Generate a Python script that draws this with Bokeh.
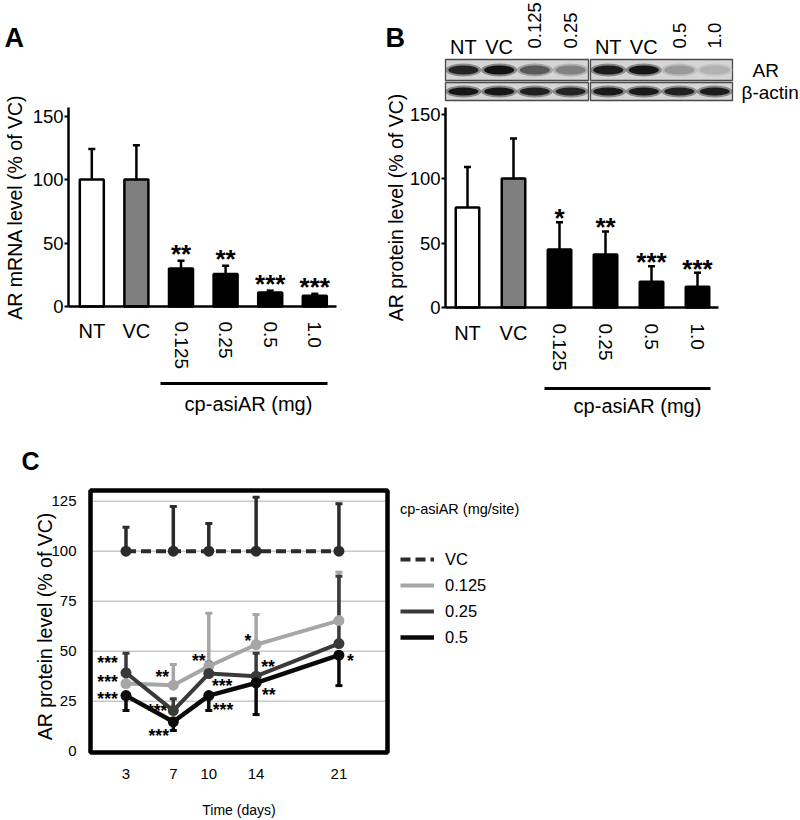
import math
from bokeh.plotting import figure
from bokeh.models import LinearAxis, FixedTicker, Range1d, Legend, LegendItem
from bokeh.layouts import column, row
from bokeh.embed import file_html
from bokeh.resources import INLINE
from bokeh.core.properties import value

# ---------------- data ----------------
groups = ["NT", "VC", "0.125", "0.25", "0.5", "1.0"]
mrna_mean = [100, 100, 30, 25.5, 11, 8.5]
mrna_err = [124, 127, 36, 32, 12.5, 10]
mrna_stars = ["", "", "**", "**", "***", "***"]

protein_mean = [77.5, 100, 45, 41, 20, 16]
protein_err = [109, 131, 66, 59, 32, 27]
protein_stars = ["", "", "*", "**", "***", "***"]

blot_lanes = ["NT", "VC", "0.125", "0.25", "NT", "VC", "0.5", "1.0"]
blot_ar = [0.88, 0.97, 0.62, 0.42, 0.92, 0.95, 0.30, 0.18]
blot_actin = [0.95, 0.95, 0.90, 0.88, 0.93, 0.93, 0.90, 0.92]

days = [3, 7, 10, 14, 21]
c_yticks = [0, 25, 50, 75, 100, 125]
vc_mean = [100, 100, 100, 100, 100]
vc_err = [112, 122.3, 113.8, 127, 123.7]
d0125_mean = [33.8, 33, 42.5, 53.3, 65.3]
d0125_err = [38, 43.3, 69, 68.3, 89.5]
d025_mean = [39.2, 20.3, 38.8, 37.5, 53.8]
d025_err = [49, 26.2, 44.5, 49, 87.5]
d05_mean = [27.8, 14.7, 27.8, 34.2, 48]
d05_err = [20.3, 10.3, 20.3, 18.3, 32.8]

c_star_text = ["***", "***", "***", "**", "***", "***", "**", "***", "***", "*", "**", "**", "*"]
c_star_x = [1.44, 1.44, 1.44, 6.06, 5.63, 5.77, 9.16, 11.13, 11.2, 13.3, 15.0, 15.07, 21.98]
c_star_y = [45.9, 36.7, 28.3, 39, 22, 9.5, 47.3, 34.5, 22.8, 57, 44.2, 30.3, 47]

FONT = "Liberation Sans"
bar_fills = ["white", "#7f7f7f", "black", "black", "black", "black"]


def gray(d):
    v = int(round(214 - d * (214 - 12)))
    return "#%02x%02x%02x" % (v, v, v)


def bar_panel(means, errs, stars, ylabel, letter, g):
    sp, c0, zero, ppu = g["sp"], g["c0"], g["zero"], g["ppu"]
    fx = lambda r: (r - c0) / sp
    fy = lambda r: (zero - r) / ppu
    H = 428
    p = figure(width=g["w"], height=H,
               x_range=Range1d(fx(g["left"]), fx(g["left"] + g["w"])),
               y_range=Range1d(fy(H), fy(0)),
               x_axis_type=None, y_axis_type=None, output_backend="svg",
               toolbar_location=None, min_border=0)
    p.outline_line_color = None
    idx = list(range(len(groups)))
    p.vbar(x=idx, top=means, bottom=0, width=g["barw"] / sp, fill_color=bar_fills,
           line_color="black", line_width=2.5)
    p.segment(x0=idx, y0=means, x1=idx, y1=errs, line_color="black", line_width=2.5)
    p.rect(x=idx, y=errs, width=7, height=2.5, width_units="screen", height_units="screen",
           fill_color="black", line_color=None)
    p.text(x=idx, y=errs, text=stars, text_align="center", text_baseline="alphabetic",
           text_font=value(FONT), text_font_style="bold", text_font_size="26px",
           y_offset=g["star_off"], text_color="black")
    # y axis
    ya = fx(g["yaxis"])
    yax = LinearAxis(fixed_location=ya, bounds=(0, g["ytop"]),
                     ticker=FixedTicker(ticks=[0, 50, 100, 150]), axis_label=ylabel)
    yax.axis_line_width = 2.5
    yax.major_tick_out = 4
    yax.major_tick_in = 0
    yax.major_tick_line_width = 2
    yax.minor_tick_line_color = None
    yax.major_label_text_font = FONT
    yax.major_label_text_font_size = "18.5px"
    yax.major_label_text_color = "black"
    yax.major_label_standoff = 1
    yax.axis_label_text_font = FONT
    yax.axis_label_text_font_size = "19.5px"
    yax.axis_label_text_font_style = "normal"
    yax.axis_label_text_color = "black"
    yax.axis_label_standoff = g["lab_std"]
    p.add_layout(yax, "left")
    # x axis
    overrides = {i: ("" if groups[i] in ("NT", "VC") else groups[i]) for i in idx}
    xax = LinearAxis(fixed_location=0, bounds=(ya, fx(g["xend"])),
                     ticker=FixedTicker(ticks=idx), major_label_overrides=overrides,
                     major_label_orientation="vertical")
    xax.axis_line_width = 2.5
    xax.major_tick_line_color = None
    xax.minor_tick_line_color = None
    xax.major_label_text_font = FONT
    xax.major_label_text_font_size = "19px"
    xax.major_label_text_color = "black"
    xax.major_label_standoff = g["std"]
    p.add_layout(xax, "below")
    hz = [i for i in idx if groups[i] in ("NT", "VC")]
    p.text(x=hz, y=fy(g["lab_top"]), text=[groups[i] for i in hz], text_align="center",
           text_baseline="top", text_font=value(FONT), text_font_size="20px", text_color="black")
    bx0, bx1, by = g["bracket"]
    p.line(x=[fx(bx0), fx(bx1)], y=[fy(by), fy(by)], line_color="black", line_width=3)
    cx, cy = g["caption"]
    p.text(x=[fx(cx)], y=[fy(cy)], text=["cp-asiAR (mg)"], text_align="center",
           text_baseline="middle", text_font=value(FONT), text_font_size="20px", text_color="black")
    lx, ly = g["letter"]
    p.text(x=[fx(lx)], y=[fy(ly)], text=[letter], text_align="left", text_baseline="top",
           text_font=value(FONT), text_font_style="bold", text_font_size="27px", text_color="black")
    return p, fx, fy


gA = dict(w=378, left=0, c0=91.3, sp=44.6, zero=306, ppu=1.27, barw=24,
          yaxis=68, ytop=157, xend=336, std=9, lab_top=319, star_off=-7, lab_std=4,
          bracket=(160, 327, 383), caption=(248, 403), letter=(4, 22))
gB = dict(w=422, left=378, c0=467, sp=46, zero=307, ppu=1.29, barw=23.5,
          yaxis=445, ytop=155, xend=718, std=10, lab_top=321, star_off=-4, lab_std=0,
          bracket=(544, 710, 388), caption=(637, 405), letter=(385, 22))

pA, _, _ = bar_panel(mrna_mean, mrna_err, mrna_stars, "AR mRNA level (% of VC)", "A", gA)
pB, fxB, fyB = bar_panel(protein_mean, protein_err, protein_stars, "AR protein level (% of VC)", "B", gB)

# ---- western blot (panel B) ----
spB = gB["sp"]
ppuB = gB["ppu"]
boxes = [(445, 588), (590, 732)]
rows_px = [(59, 80), (82, 100)]
for (l, r) in boxes:
    for (t, b) in rows_px:
        pB.quad(left=fxB(l), right=fxB(r), top=fyB(t), bottom=fyB(b),
                fill_color="#d5d5d5", line_color="#4a4a4a", line_width=1.3)
lane_x = []
for i in range(len(blot_lanes)):
    l, r = boxes[i // 4]
    lane_x.append(fxB(l + ((i % 4) + 0.5) * (r - l) / 4))
for vals, yc, h in [(blot_ar, 69.5, 9), (blot_actin, 91, 8)]:
    pB.ellipse(x=lane_x, y=fyB(yc), width=36 / spB, height=(h + 4) / ppuB,
               fill_color=[gray(v * 0.75) for v in vals], fill_alpha=0.55, line_color=None)
    pB.ellipse(x=lane_x, y=fyB(yc), width=30 / spB, height=h / ppuB,
               fill_color=[gray(v) for v in vals], line_color=None)
hz = [i for i, l in enumerate(blot_lanes) if l in ("NT", "VC")]
rt = [i for i, l in enumerate(blot_lanes) if l not in ("NT", "VC")]
pB.text(x=[lane_x[i] for i in hz], y=fyB(46), text=[blot_lanes[i] for i in hz],
        text_align="center", text_baseline="alphabetic", text_font=value(FONT),
        text_font_size="20px", text_color="black")
pB.text(x=[lane_x[i] for i in rt], y=fyB(48), text=[blot_lanes[i] for i in rt],
        angle=math.pi / 2, text_align="left", text_baseline="middle", text_font=value(FONT),
        text_font_size="18.5px", text_color="black")
pB.text(x=[fxB(752), fxB(741)], y=[fyB(70), fyB(92)], text=["AR", "β-actin"],
        text_align="left", text_baseline="middle", text_font=value(FONT),
        text_font_size="19px", text_color="black")

# ---------------- panel C ----------------
CT = 428           # panel top in page px
HC = 392
cx0, cppx = 90, 11.83   # box left (px) and px per day
czero, cppu = 750.7, 2.0
fxC = lambda r: (r - cx0) / cppx
fyC = lambda r: (czero - r) / cppu
pC = figure(width=800, height=HC, x_range=Range1d(fxC(0), fxC(800)),
            y_range=Range1d(fyC(CT + HC), fyC(CT)),
            x_axis_type=None, y_axis_type=None, output_backend="svg",
            toolbar_location=None, min_border=0)
pC.outline_line_color = None
box_l, box_r, box_b, box_t = 0, fxC(387), fyC(752), fyC(490)
# grid lines at the y ticks
gy = [t for t in c_yticks if t > 0]
pC.segment(x0=[box_l] * len(gy), y0=gy, x1=[box_r] * len(gy), y1=gy,
           line_color="#c8c8c8", line_width=1.5)
pC.quad(left=box_l, right=box_r, bottom=box_b, top=box_t, fill_color=None,
        line_color="black", line_width=4.5)

ycax = LinearAxis(fixed_location=box_l, bounds=(0, 125), ticker=FixedTicker(ticks=c_yticks),
                  axis_label="AR protein level (% of VC)")
xcax = LinearAxis(fixed_location=box_b, bounds=(box_l, box_r), ticker=FixedTicker(ticks=days),
                  axis_label="Time (days)")
for ax in (ycax, xcax):
    ax.axis_line_color = None
    ax.major_tick_line_color = None
    ax.minor_tick_line_color = None
    ax.major_label_text_font = FONT
    ax.major_label_text_font_size = "15px"
    ax.major_label_text_color = "black"
    ax.axis_label_text_font = FONT
    ax.axis_label_text_font_style = "normal"
    ax.axis_label_text_color = "black"
ycax.major_label_standoff = 8
xcax.major_label_standoff = 10
ycax.axis_label_text_font_size = "19.5px"
ycax.axis_label_standoff = -8
xcax.axis_label_text_font_size = "14px"
xcax.axis_label_standoff = 20
pC.add_layout(ycax, "left")
pC.add_layout(xcax, "below")

pC.text(x=c_star_x, y=c_star_y, text=c_star_text, text_align="center", text_baseline="middle",
        text_font=value(FONT), text_font_style="bold", text_font_size="17.5px",
        y_offset=4, text_color="black")

series = [
    ("VC", vc_mean, vc_err, "#2b2b2b", "10 5", 4),
    ("0.125", d0125_mean, d0125_err, "#a6a6a6", "solid", 4),
    ("0.25", d025_mean, d025_err, "#3a3a3a", "solid", 4),
    ("0.5", d05_mean, d05_err, "#0a0a0a", "solid", 4.5),
]
draw_order = [1, 0, 2, 3]
for k in draw_order:
    name, m, e, col, dash, lw = series[k]
    pC.segment(x0=days, y0=m, x1=days, y1=e, line_color=col, line_width=3.5)
    pC.rect(x=days, y=e, width=7, height=3, width_units="screen", height_units="screen",
            fill_color=col, line_color=None)
line_r = {}
for k in draw_order:
    name, m, e, col, dash, lw = series[k]
    line_r[name] = pC.line(x=days, y=m, line_color=col, line_width=lw, line_dash=dash)
    pC.scatter(x=days, y=m, size=11, fill_color=col, line_color=None)

pC.text(x=[fxC(21)], y=[fyC(460)], text=["C"], text_align="left", text_baseline="middle",
        text_font=value(FONT), text_font_style="bold", text_font_size="25px", text_color="black")

legend = Legend(items=[LegendItem(label=s[0], renderers=[line_r[s[0]]]) for s in series],
                location=(400, 820 - 647), title="cp-asiAR (mg/site)")
legend.title_text_font = FONT
legend.title_text_font_size = "14.5px"
legend.title_text_font_style = "normal"
legend.title_text_color = "black"
legend.title_standoff = 32
legend.label_text_font = FONT
legend.label_text_font_size = "16.5px"
legend.label_text_color = "black"
legend.glyph_width = 34
legend.glyph_height = 20
legend.label_height = 20
legend.label_standoff = 11
legend.spacing = 6
legend.padding = 0
legend.margin = 0
legend.border_line_color = None
legend.background_fill_alpha = 0
pC.add_layout(legend)

layout = column(row(pA, pB), pC)
open("out.html", "w").write(file_html(layout, INLINE))
